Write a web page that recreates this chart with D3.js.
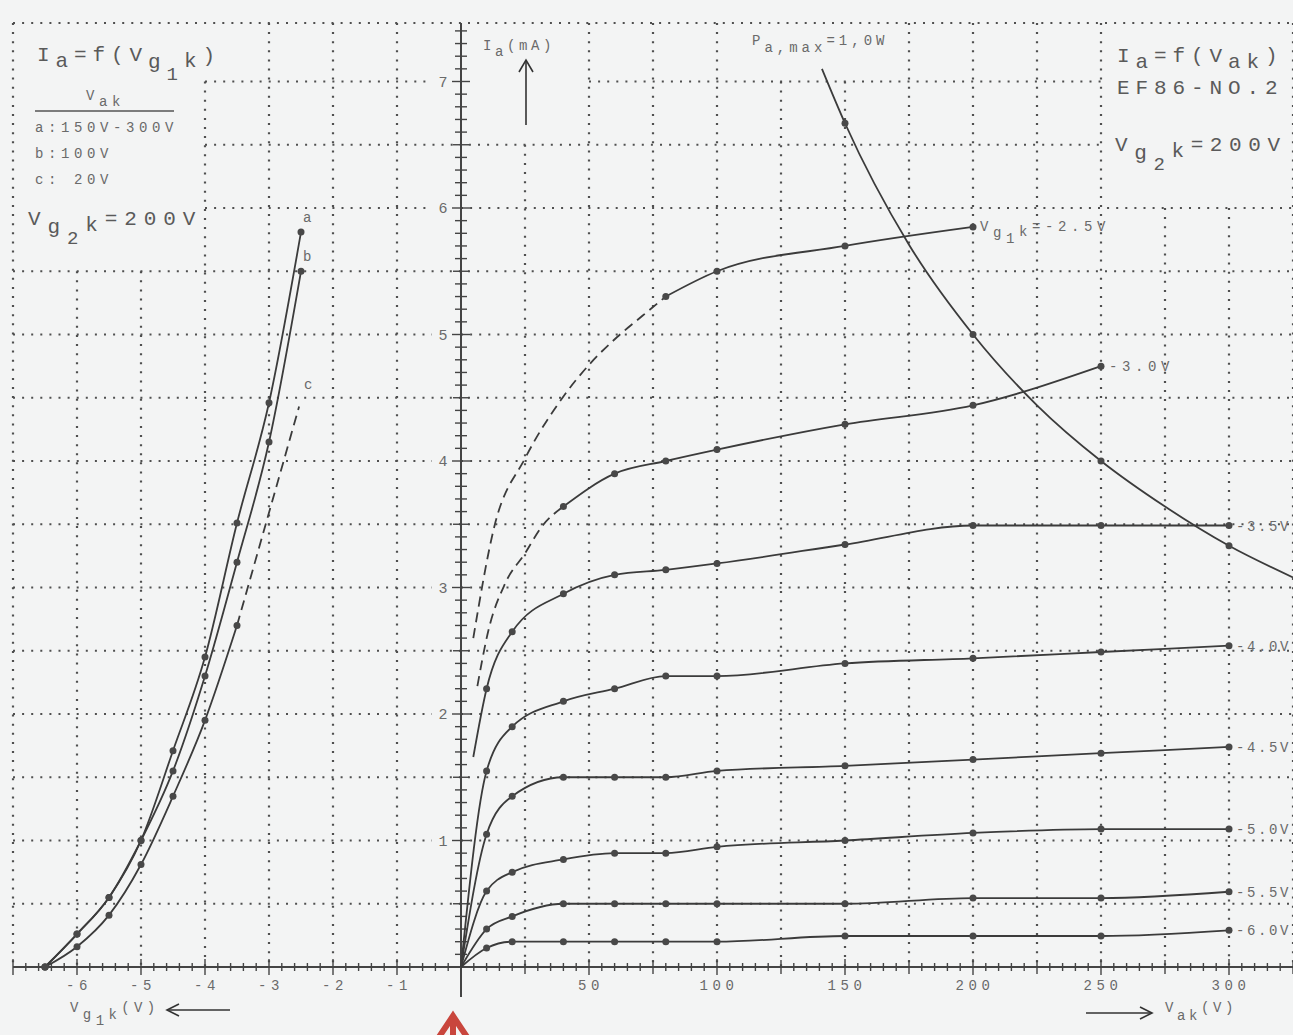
<!DOCTYPE html>
<html>
<head>
<meta charset="utf-8">
<script src="https://cdn.jsdelivr.net/npm/d3@7"></script>
<style>
	body{margin:0;background:#f3f4f4;}
	svg{display:block;}
	text{font-family:"Courier New",Courier,"Liberation Mono",monospace;fill:#6a6a6a;}
</style>
</head>
<body>
<svg id="chart" width="1293" height="1035"></svg>
<script>
// anode curves Ia=f(Vak), one list per grid voltage
var vakSteps = [10, 20, 40, 60, 80, 100, 150, 200, 250, 300];
var iaG60 = [0.15, 0.20, 0.20, 0.20, 0.20, 0.20, 0.245, 0.245, 0.245, 0.29];
var iaG55 = [0.30, 0.40, 0.50, 0.50, 0.50, 0.50, 0.50, 0.545, 0.545, 0.595];
var iaG50 = [0.60, 0.75, 0.85, 0.90, 0.90, 0.95, 1.00, 1.06, 1.09, 1.09];
var iaG45 = [1.05, 1.35, 1.50, 1.50, 1.50, 1.55, 1.59, 1.64, 1.69, 1.74];
var iaG40 = [1.55, 1.90, 2.10, 2.20, 2.30, 2.30, 2.40, 2.44, 2.49, 2.54];
var iaG35 = [2.20, 2.65, 2.95, 3.10, 3.14, 3.19, 3.34, 3.49, 3.49, 3.49];
var startG35 = [4.8, 1.66];

var vakG30 = [40, 60, 80, 100, 150, 200, 250];
var iaG30 = [3.64, 3.90, 4.00, 4.09, 4.29, 4.44, 4.75];
var vakG30dash = [6.4, 10.7, 17.2, 25, 31.5, 40];
var iaG30dash = [2.22, 2.66, 3.03, 3.27, 3.48, 3.64];

var vakG25 = [80, 100, 150, 200];
var iaG25 = [5.30, 5.50, 5.70, 5.85];
var vakG25dash = [4.8, 13, 25, 40, 50, 61, 71, 80];
var iaG25dash = [2.60, 3.48, 4.02, 4.51, 4.76, 4.98, 5.15, 5.30];

// Pa,max = 1,0W line
var vakPmax = [141, 150, 175, 200, 225, 250, 275, 300, 325];
var iaPmax = [7.10, 6.67, 5.71, 5.00, 4.44, 4.00, 3.64, 3.33, 3.08];
var pmaxDots = [150, 200, 250, 300];

// grid curves Ia=f(Vg1k)
var vg1 = [-6.5, -6.0, -5.5, -5.0, -4.5, -4.0, -3.5, -3.0, -2.5];
var iaA = [0, 0.26, 0.55, 1.00, 1.71, 2.45, 3.51, 4.46, 5.81];
var iaB = [0, 0.26, 0.55, 1.00, 1.55, 2.30, 3.20, 4.15, 5.50];
var vgC = [-6.5, -6.0, -5.5, -5.0, -4.5, -4.0, -3.5];
var iaC = [0, 0.16, 0.41, 0.81, 1.35, 1.95, 2.70];
var vgCdash = [-3.5, -2.53];
var iaCdash = [2.70, 4.43];

// tick labels
var yLabels = [1, 2, 3, 4, 5, 6, 7];
var vgLabels = [-6, -5, -4, -3, -2, -1];
var vakLabels = [50, 100, 150, 200, 250, 300];

var svg = d3.select('#chart');
var topPx = 23;
var ink = '#3b3b3b';
var small = 14, smallLs = 4.6;

var xL = d3.scaleLinear().domain([-7, 0]).range([13, 461]);
var xR = d3.scaleLinear().domain([0, 325]).range([461, 1293]);
var y = d3.scaleLinear().domain([0, 7]).range([967, 81.5]);

//dotted graph paper
var grid = svg.append('g');
function dotted(x1, y1, x2, y2){
	grid.append('line').attr('x1', x1).attr('y1', y1).attr('x2', x2).attr('y2', y2)
		.attr('stroke', '#4f4f4f').attr('stroke-width', 2.2).attr('stroke-dasharray', '2,7.1')
}
dotted(xL(-7), topPx, xR(325), topPx)
d3.range(1, 15).map(function(i){return i * 0.5}).forEach(function(lv){
	var left = lv > 5.5 ? xL(-4) : xL(-7);
	var right = lv > 6 ? xR(250) : xR(325);
	var yy = y(lv);
	if(lv % 1 === 0){
		dotted(left, yy, 432, yy)
		dotted(lv === 7 ? xR(50) : xR(0), yy, right, yy)
	} else {
		dotted(left, yy, right, yy)
	}
})
d3.range(-7, 0).forEach(function(v){
	var top = (v === -7 || v >= -3) ? topPx : (v === -4 ? y(7) : y(5.5));
	dotted(xL(v), top, xL(v), y(0))
})
d3.range(1, 14).map(function(i){return i * 25}).forEach(function(v){
	var top = topPx;
	if(v === 25) top = y(6.5);
	if(v === 125 || v === 150) top = y(7);
	if(v === 275 || v === 300) top = y(6);
	dotted(xR(v), top, xR(v), y(0))
})

//axes
var axes = svg.append('g').attr('stroke', '#444');
axes.append('line').attr('x1', xL(-7)).attr('x2', xR(325)).attr('y1', y(0)).attr('y2', y(0)).attr('stroke-width', 2)
axes.append('line').attr('x1', xR(0)).attr('x2', xR(0)).attr('y1', topPx).attr('y2', 997).attr('stroke-width', 2)
d3.range(1, 75).forEach(function(i){
	var len = i % 10 === 0 ? 9 : (i % 5 === 0 ? 8 : 6);
	axes.append('line').attr('x1', xR(0) - len).attr('x2', xR(0) + len).attr('y1', y(i / 10)).attr('y2', y(i / 10)).attr('stroke-width', 1.4)
})
d3.range(1, 66).forEach(function(i){
	var v = i * 5;
	var up = v % 50 === 0 ? 8 : (v % 25 === 0 ? 7 : 4);
	axes.append('line').attr('x1', xR(v)).attr('x2', xR(v)).attr('y1', y(0) - up).attr('y2', y(0) + up).attr('stroke-width', 1.4)
})
d3.range(-35, 0).forEach(function(i){
	var v = i / 5;
	var up = i % 5 === 0 ? 8 : 4;
	axes.append('line').attr('x1', xL(v)).attr('x2', xL(v)).attr('y1', y(0) - up).attr('y2', y(0) + up).attr('stroke-width', 1.4)
})

//tick labels
svg.selectAll('.ylab').data(yLabels).enter().append('text').attr('class', 'ylab')
	.attr('x', 443).attr('y', function(d){return y(d) + 5}).attr('font-size', 15).attr('text-anchor', 'middle').text(function(d){return d})
svg.selectAll('.vglab').data(vgLabels).enter().append('text').attr('class', 'vglab')
	.attr('x', function(d){return xL(d) + 2}).attr('y', 990).attr('font-size', small).attr('text-anchor', 'middle')
	.style('letter-spacing', smallLs + 'px').text(function(d){return d})
svg.selectAll('.vaklab').data(vakLabels).enter().append('text').attr('class', 'vaklab')
	.attr('x', function(d){return xR(d) + 2}).attr('y', 990).attr('font-size', small).attr('text-anchor', 'middle')
	.style('letter-spacing', smallLs + 'px').text(function(d){return d})

//curves
var lineR = d3.line().x(function(d){return xR(d[0])}).y(function(d){return y(d[1])}).curve(d3.curveMonotoneX);
var lineL = d3.line().x(function(d){return xL(d[0])}).y(function(d){return y(d[1])}).curve(d3.curveMonotoneX);
function zip(xs, ys){return xs.map(function(v, i){return [v, ys[i]]})}

var curves = svg.append('g').attr('fill', 'none').attr('stroke', ink).attr('stroke-width', 1.8);
var dots = svg.append('g').attr('fill', '#484848');
function dotR(pts){pts.forEach(function(p){dots.append('circle').attr('cx', xR(p[0])).attr('cy', y(p[1])).attr('r', 3.5)})}
function dotL(pts){pts.forEach(function(p){dots.append('circle').attr('cx', xL(p[0])).attr('cy', y(p[1])).attr('r', 3.5)})}

var lowCurves = [[iaG60, '-6.0V'], [iaG55, '-5.5V'], [iaG50, '-5.0V'], [iaG45, '-4.5V'], [iaG40, '-4.0V'], [iaG35, '-3.5V']];
lowCurves.forEach(function(c, k){
	var pts = zip(vakSteps, c[0]);
	var first = k === 5 ? startG35 : [0, 0];
	curves.append('path').attr('d', lineR([first].concat(pts)))
	dotR(pts)
	var last = pts[pts.length - 1];
	// squeezed a little so the label stays inside the sheet edge
	svg.append('text').attr('x', xR(last[0]) + 7).attr('y', y(last[1]) + 5).attr('font-size', small)
		.style('letter-spacing', '2.6px').text(c[1])
})

var g30 = zip(vakG30, iaG30);
curves.append('path').attr('d', lineR(zip(vakG30dash, iaG30dash))).attr('stroke-dasharray', '10,6')
curves.append('path').attr('d', lineR(g30))
dotR(g30)
svg.append('text').attr('x', xR(250) + 8).attr('y', y(4.75) + 5).attr('font-size', small).style('letter-spacing', smallLs + 'px').text('-3.0V')

var g25 = zip(vakG25, iaG25);
curves.append('path').attr('d', lineR(zip(vakG25dash, iaG25dash))).attr('stroke-dasharray', '10,6')
curves.append('path').attr('d', lineR(g25))
dotR(g25)

var pmax = zip(vakPmax, iaPmax);
curves.append('path').attr('d', lineR(pmax))
dotR(pmax.filter(function(p){return pmaxDots.indexOf(p[0]) !== -1}))

var ptsA = zip(vg1, iaA), ptsB = zip(vg1, iaB), ptsC = zip(vgC, iaC);
curves.append('path').attr('d', lineL(ptsA))
curves.append('path').attr('d', lineL(ptsB))
curves.append('path').attr('d', lineL(ptsC))
curves.append('path').attr('d', lineL(zip(vgCdash, iaCdash))).attr('stroke-dasharray', '10,6')
dotL(ptsA); dotL(ptsB); dotL(ptsC)

//rich text with sub/superscripts: parts = [text, baseline offset, size]
function rich(x, yb, size, ls, parts, color){
	var t = svg.append('text').attr('x', x).attr('y', yb).attr('font-size', size).style('letter-spacing', ls + 'px');
	if(color) t.style('fill', color);
	var prev = 0;
	parts.forEach(function(p){
		t.append('tspan').attr('dy', p[1] - prev).attr('font-size', p[2] || size).text(p[0]);
		prev = p[1];
	})
	return t;
}
var big = '#5a5a5a';

//left block
rich(37, 61, 21, 5.9, [['I', 0], ['a', 6], ['=f(V', 0], ['g', 7], ['1', 19, 19], ['k', 6], [')', 1]], big)
rich(86, 100, small, smallLs, [['V', 0], ['ak', 6]])
svg.append('line').attr('x1', 35).attr('x2', 174).attr('y1', 111).attr('y2', 111).attr('stroke', '#555').attr('stroke-width', 1.6)
svg.append('text').attr('x', 35).attr('y', 132).attr('font-size', small).style('letter-spacing', smallLs + 'px').text('a:150V-300V')
svg.append('text').attr('x', 35).attr('y', 158).attr('font-size', small).style('letter-spacing', smallLs + 'px').text('b:100V')
svg.append('text').attr('x', 35).attr('y', 184).attr('font-size', small).style('letter-spacing', smallLs + 'px').text('c: 20V')
rich(28, 225, 21, 6.9, [['V', 0], ['g', 8], ['2', 19, 19], ['k', 6], ['=200V', 0]], big)
svg.append('text').attr('x', 303).attr('y', 222).attr('font-size', small).text('a')
svg.append('text').attr('x', 303).attr('y', 261).attr('font-size', small).text('b')
svg.append('text').attr('x', 304).attr('y', 389).attr('font-size', small).text('c')

//right block
rich(1117, 62, 21, 5.9, [['I', 0], ['a', 6], ['=f(V', 0], ['ak', 6], [')', 0]], big)
svg.append('text').attr('x', 1117).attr('y', 94).attr('font-size', 21).style('letter-spacing', '5.9px').style('fill', big).text('EF86-NO.2')
rich(1115, 151, 21, 6.6, [['V', 0], ['g', 8], ['2', 19, 19], ['k', 6], ['=200V', 0]], big)

//axis names and arrows
rich(483, 50, small, 3.6, [['I', 0], ['a', 6], ['(mA)', 0]])
rich(752, 45, small, 4, [['P', 0], ['a,max', 7], ['=1,0W', 0]])
rich(980, 231, small, 4.6, [['V', 0], ['g', 6], ['1', 12], ['k', 5], ['=-2.5V', 0]])
rich(70, 1012, small, 4.4, [['V', 0], ['g', 7], ['1', 13], ['k', 7], ['(V)', 0]])
rich(1165, 1012, small, 3.6, [['V', 0], ['ak', 8], ['(V)', 0]])

var arrows = svg.append('g').attr('stroke', '#333').attr('stroke-width', 1.6).attr('fill', 'none');
arrows.append('line').attr('x1', 526).attr('x2', 526).attr('y1', 125).attr('y2', 60)
arrows.append('path').attr('d', 'M519,72 L526,60 L533,72')
arrows.append('line').attr('x1', 230).attr('x2', 167).attr('y1', 1010).attr('y2', 1010)
arrows.append('path').attr('d', 'M179,1004 L167,1010 L179,1016')
arrows.append('line').attr('x1', 1086).attr('x2', 1152).attr('y1', 1013).attr('y2', 1013)
arrows.append('path').attr('d', 'M1140,1007 L1152,1013 L1140,1019')

//red marker under the origin
svg.append('path').attr('d', 'M439,1037 L453,1016 L467,1037 M453,1019 L453,1037')
	.attr('stroke', '#c9463d').attr('stroke-width', 6).attr('fill', 'none').attr('stroke-linejoin', 'miter')
</script>
</body>
</html>
